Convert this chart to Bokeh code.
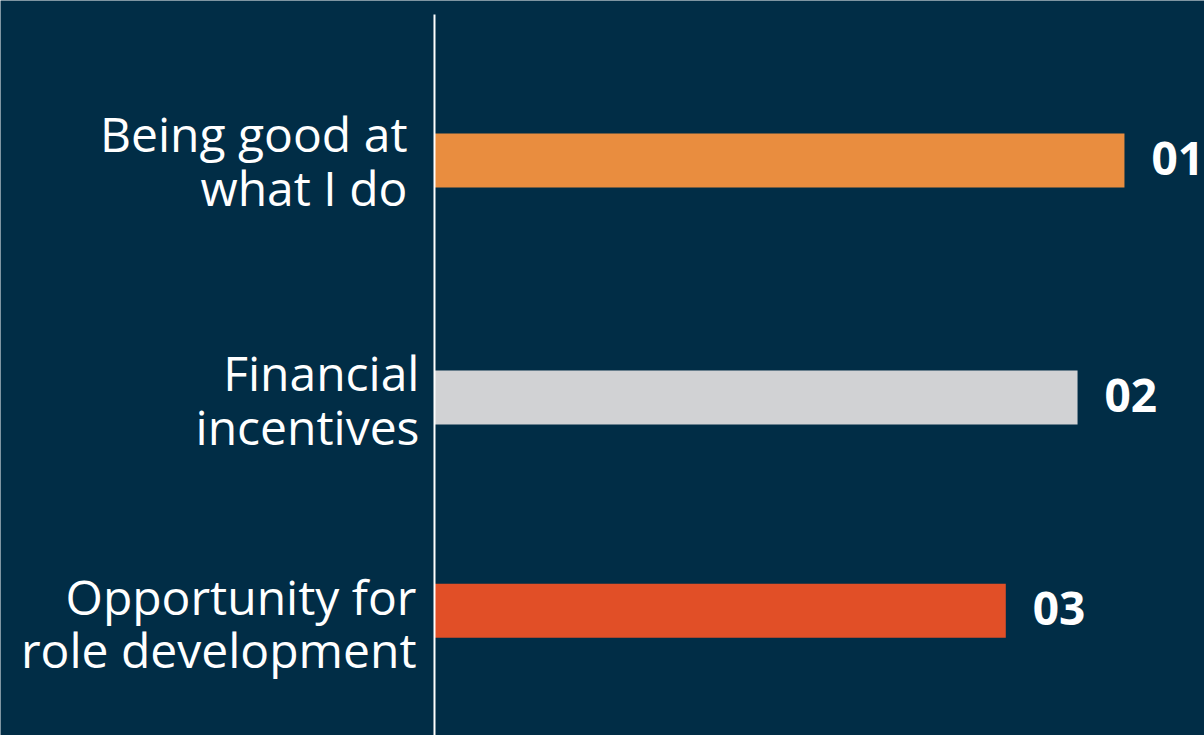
from bokeh.plotting import figure
from bokeh.models import ColumnDataSource, Range1d
from bokeh.core.properties import value
from bokeh.embed import file_html
from bokeh.resources import INLINE

# --- data -------------------------------------------------------------
categories = [
    "Being good at\nwhat I do",
    "Financial\nincentives",
    "Opportunity for\nrole development",
]
rank_labels = ["01", "02", "03"]
scores = [100.0, 93.2, 82.8]
bar_colors = ["#E98D3F", "#D1D2D4", "#E14F27"]

# --- layout -----------------------------------------------------------
BG = "#012D46"
W, H = 1204, 735
row_pos = [0.0, 1.0, 1.9]          # vertical slot of each row
bar_height = 0.228
label_dx = [-27, -15, -18]         # px, right edge of category text from the axis line
label_dy = [0, 2, 12]              # px, nudge of category text
rank_dx = 27                       # px, gap between bar end and rank number
rank_dy = -2

src = ColumnDataSource(dict(
    y=row_pos,
    score=scores,
    zero=[0.0] * len(scores),
    color=bar_colors,
    cat=categories,
    rank=rank_labels,
    ldx=label_dx,
    ldy=label_dy,
))

p = figure(
    width=W, height=H,
    x_range=Range1d(-62.9, 111.6),
    y_range=Range1d(2.426, -0.675),
    output_backend="svg",
    toolbar_location=None,
    min_border=0,
    background_fill_color=BG,
    border_fill_color=BG,
    outline_line_color=None,
)
p.axis.visible = False
p.grid.visible = False

# bars
p.hbar(y="y", left="zero", right="score", height=bar_height,
       fill_color="color", line_color=None, source=src)

# vertical baseline
p.segment(x0=[0], y0=[-0.616], x1=[0], y1=[2.5],
          line_color="white", line_width=2)

# category labels
p.text(x="zero", y="y", text="cat", source=src,
       x_offset="ldx", y_offset="ldy",
       text_align="right", text_baseline="middle",
       text_color="white", text_font=value("Open Sans"),
       text_font_size="48px", text_line_height=0.82)

# rank numbers
p.text(x="score", y="y", text="rank", source=src,
       x_offset=rank_dx, y_offset=rank_dy,
       text_align="left", text_baseline="middle",
       text_color="white", text_font=value("Open Sans"),
       text_font_style="bold", text_font_size="46px")

open("out.html", "w").write(file_html(p, INLINE))
